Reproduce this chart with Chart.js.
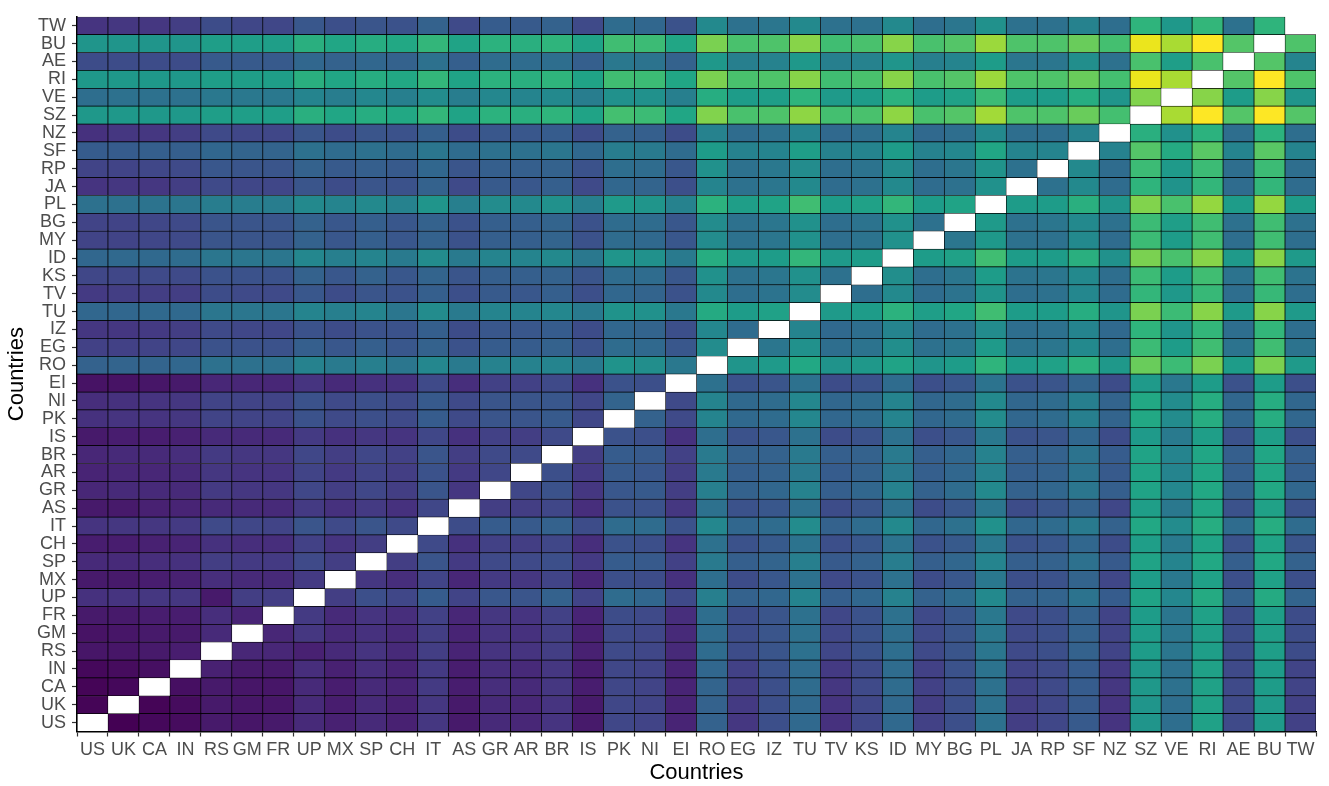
<!DOCTYPE html>
<html>
<head>
<meta charset="utf-8">
<script src="https://cdn.jsdelivr.net/npm/chart.js@4.4.1/dist/chart.umd.min.js"></script>
<style>
  html, body { margin: 0; padding: 0; background: #fff; }
  #wrap { width: 1329px; height: 786px; }
</style>
</head>
<body>
<div id="wrap"><canvas id="c" width="1329" height="786"></canvas></div>
<script>
// countries on both axes (x left->right, y bottom->top)
const countries = ['US','UK','CA','IN','RS','GM','FR','UP','MX','SP','CH','IT','AS','GR','AR','BR','IS','PK','NI','EI',
                   'RO','EG','IZ','TU','TV','KS','ID','MY','BG','PL','JA','RP','SF','NZ','SZ','VE','RI','AE','BU','TW'];

// one row per y country, values read off the colour scale (0 = darkest, 100 = brightest), null = no tile
const rUS = [null,0,2,3,7,6,7,12,9,12, 9,16,7,12,11,15,7,21,20,10, 31,16,24,34,14,21,34,19,24,37, 18,21,28,15,52,36,57,22,54,19];
const rUK = [1,null,1,3,7,6,6,12,8,12, 9,16,7,12,11,15,7,21,20,10, 31,17,24,34,15,21,34,18,24,37, 18,21,28,15,52,36,57,22,54,19];
const rCA = [1,2,null,4,7,6,6,12,8,12, 10,17,8,13,12,16,8,21,20,10, 32,18,24,35,16,22,35,19,24,37, 19,22,29,16,53,37,57,22,55,20];
const rIN = [2,3,4,null,9,7,7,13,9,13, 10,17,8,13,12,16,8,21,20,10, 33,19,25,35,17,22,35,19,25,38, 20,22,29,17,53,37,57,22,55,20];
const rRS = [6,6,7,8,null,11,11,9,12,15, 12,18,10,15,15,18,9,22,21,12, 35,23,26,37,21,25,36,22,26,39, 22,24,31,20,55,39,56,23,56,23];
const rGM = [5,6,7,7,12,null,11,16,12,14, 12,18,10,15,14,18,9,22,21,12, 35,23,26,37,21,25,36,22,26,40, 22,24,31,20,55,39,56,23,56,23];
const rFR = [7,7,8,8,13,10,null,17,12,15, 13,19,11,16,15,19,10,23,22,13, 36,23,26,37,21,25,37,22,27,40, 22,24,31,20,55,39,57,23,56,23];
const rUP = [14,15,16,16,7,18,18,null,18,24, 21,29,20,27,26,31,20,35,33,22, 43,31,33,45,30,33,44,31,35,47, 31,32,38,29,58,46,61,31,61,32];
const rMX = [7,7,8,9,13,12,12,17,null,16, 13,20,11,17,16,20,11,24,23,14, 36,23,27,37,22,25,37,23,27,40, 24,25,32,21,55,40,57,24,57,24];
const rSP = [12,12,13,14,18,17,17,22,18,null, 18,26,17,22,22,24,17,29,28,19, 41,30,32,43,28,31,42,30,33,45, 30,31,37,28,58,45,60,30,60,31];
const rCH = [8,8,9,10,14,13,13,19,15,18, null,22,14,19,18,21,13,25,24,15, 37,25,28,38,24,27,38,25,28,40, 25,27,33,23,56,41,58,25,58,26];
const rIT = [15,16,16,17,22,21,20,26,22,26, 22,null,23,29,28,31,23,35,35,25, 46,33,35,48,31,35,47,33,37,50, 33,35,41,31,60,48,62,35,62,35];
const rAS = [7,7,9,10,12,12,12,17,14,17, 14,21,null,18,18,21,13,25,25,16, 37,25,27,37,23,26,37,23,27,39, 23,26,31,21,56,40,59,25,57,25];
const rGR = [11,12,12,12,17,16,16,21,18,21, 18,26,16,null,21,25,16,27,28,18, 43,31,33,44,30,33,44,31,35,47, 31,33,39,30,58,46,60,31,60,33];
const rAR = [10,11,11,12,16,15,15,20,17,20, 18,25,17,21,null,24,17,28,27,18, 41,30,31,41,29,31,41,30,33,44, 30,31,38,28,58,45,59,30,59,30];
const rBR = [11,12,12,13,17,16,16,21,18,21, 19,26,18,22,22,null,18,29,28,19, 41,31,31,41,30,31,41,30,33,44, 30,31,38,29,58,45,59,30,59,30];
const rIS = [7,8,8,9,12,12,12,17,14,16, 15,21,14,19,18,22,null,25,24,14, 36,25,27,37,23,25,37,24,27,40, 25,26,33,23,54,41,56,25,56,24];
const rPK = [14,15,15,16,20,20,20,25,22,24, 22,29,22,26,26,28,21,null,31,22, 45,34,35,46,33,35,45,33,35,48, 33,35,43,32,60,48,62,33,62,33];
const rNI = [13,14,15,16,20,20,20,25,22,24, 22,28,22,26,26,27,21,32,null,22, 45,34,35,46,33,35,45,33,35,47, 33,35,43,32,60,48,62,33,62,33];
const rEI = [5,5,6,7,11,11,11,15,12,14, 14,22,13,19,19,22,14,25,24,null, 37,25,26,37,23,25,35,24,27,38, 25,26,32,23,54,40,55,25,55,24];
const rRO = [31,32,32,33,37,37,37,44,41,43, 39,46,41,44,44,45,41,51,49,40, null,52,54,60,51,53,58,52,55,65, 55,57,64,53,77,68,80,55,80,54];
const rEG = [19,19,20,21,25,25,25,30,27,30, 27,31,25,29,29,31,25,35,34,27, 48,null,39,50,36,38,49,37,39,54, 38,39,47,36,68,55,69,38,69,38];
const rIZ = [16,16,17,18,22,21,21,25,23,25, 25,30,23,27,27,29,23,33,32,24, 46,35,null,45,34,36,45,35,37,48, 36,37,45,34,65,52,66,36,66,36];
const rTU = [33,33,34,34,39,39,39,45,43,45, 39,48,41,45,45,46,41,51,50,40, 61,55,57,null,54,55,64,56,59,69, 55,55,62,52,80,68,82,54,82,54];
const rTV = [17,18,18,18,23,22,22,27,23,26, 25,30,24,28,27,30,24,33,32,25, 47,36,38,48,null,36,47,35,38,51, 36,37,46,35,66,53,67,36,67,36];
const rKS = [21,21,22,22,25,25,25,31,27,31, 27,32,26,30,30,31,26,35,35,27, 50,37,39,50,37,null,49,36,39,55, 38,39,47,36,68,55,69,38,69,38];
const rID = [33,34,34,35,39,39,39,46,43,45, 41,48,41,45,45,47,40,52,50,41, 62,54,55,66,54,55,null,55,57,69, 55,55,63,50,80,71,82,54,82,54];
const rMY = [20,20,21,22,26,26,26,31,27,30, 27,31,25,30,30,32,25,35,34,27, 48,37,39,50,36,38,50,null,39,53, 37,37,47,35,68,55,69,36,69,36];
const rBG = [20,20,21,22,26,26,26,31,27,30, 27,31,25,30,30,32,25,35,35,27, 48,37,39,50,36,38,50,37,null,54, 37,39,47,37,68,56,69,37,69,37];
const rPL = [37,37,38,39,42,42,42,47,45,47, 44,52,43,48,47,50,43,54,52,44, 64,56,58,69,55,57,66,55,58,null, 55,55,63,52,81,71,84,55,84,55];
const rJA = [15,16,16,18,22,21,21,26,23,26, 25,31,22,28,27,30,22,33,32,24, 45,37,39,47,35,37,47,35,37,50, null,37,47,35,65,51,66,35,66,35];
const rRP = [20,20,21,22,27,26,26,31,28,30, 28,33,26,30,30,31,25,36,35,27, 50,37,40,48,36,38,48,36,39,51, 37,null,47,35,68,54,68,36,68,36];
const rSF = [29,29,30,30,33,32,32,37,35,37, 35,39,35,37,37,39,34,42,41,35, 55,44,45,56,44,45,55,44,46,59, 45,45,null,44,73,61,74,45,74,45];
const rNZ = [14,16,16,18,22,21,21,26,23,26, 25,30,23,27,27,29,23,31,30,23, 44,35,37,45,34,36,45,34,36,47, 36,36,44,null,63,50,64,36,64,36];
const rSZ = [53,53,53,53,56,56,56,63,59,62, 60,66,58,64,63,65,58,70,68,59, 81,71,72,83,70,71,83,71,73,86, 72,72,77,70,null,87,100,73,100,73];
const rVE = [36,37,37,37,40,40,40,45,42,46, 43,48,42,46,45,47,42,50,50,43, 62,55,56,65,54,55,64,55,57,68, 55,55,62,52,81,null,82,55,82,52];
const rRI = [53,53,53,53,56,56,56,63,59,62, 60,66,58,64,63,65,58,69,68,59, 80,71,72,82,69,71,82,71,73,85, 72,72,77,70,97,87,null,73,100,72];
const rAE = [23,23,23,23,28,28,28,33,31,33, 31,37,30,35,35,36,30,40,38,31, 53,43,44,53,43,44,52,43,45,55, 39,39,49,37,71,56,71,null,73,45];
const rBU = [52,52,52,52,56,56,56,63,59,62, 60,66,58,64,63,65,58,69,68,59, 80,71,72,82,69,71,82,71,73,85, 72,72,77,70,97,87,100,73,null,72];
const rTW = [15,16,16,18,23,21,21,27,24,26, 25,31,22,29,28,31,22,35,33,25, 47,37,39,47,37,37,47,36,39,50, 37,37,44,36,65,53,66,37,65,null];

const rows = [rUS,rUK,rCA,rIN,rRS,rGM,rFR,rUP,rMX,rSP,rCH,rIT,rAS,rGR,rAR,rBR,rIS,rPK,rNI,rEI,
              rRO,rEG,rIZ,rTU,rTV,rKS,rID,rMY,rBG,rPL,rJA,rRP,rSF,rNZ,rSZ,rVE,rRI,rAE,rBU,rTW];

// viridis colour ramp
const VIR = ['#440154','#471365','#482475','#463480','#414487','#3b528b','#355f8d','#2f6c8e','#2a788e','#25848e',
             '#21918c','#1e9c89','#22a884','#2fb47c','#44bf70','#5ec962','#7ad151','#9bd93c','#bddf26','#dfe318','#fde725'];
const hex = h => [1,3,5].map(i => parseInt(h.substr(i,2),16));
function viridis(t) {
  t = Math.max(0, Math.min(1, t));
  const p = t * 20, i = Math.min(19, Math.floor(p)), f = p - i;
  const a = hex(VIR[i]), b = hex(VIR[i+1]);
  return 'rgb(' + a.map((v,k) => Math.round(v + (b[k]-v)*f)).join(',') + ')';
}

const FONT = 'Liberation Sans, Arial, Helvetica, sans-serif';

const datasets = rows.map((row, r) => ({
  data: row.map(v => v === null ? null : [r, r + 1]),
  backgroundColor: row.map(v => v === null ? 'rgba(0,0,0,0)' : viridis(v / 100)),
  borderColor: '#000',
  borderWidth: 0.7,
  borderSkipped: false,
  grouped: false,
  barPercentage: 1,
  categoryPercentage: 1
}));

new Chart(document.getElementById('c'), {
  type: 'bar',
  data: { labels: countries, datasets },
  options: {
    responsive: false,
    animation: false,
    devicePixelRatio: 1,
    layout: { padding: { top: 9.5, right: 13, left: 0, bottom: 0 } },
    plugins: { legend: { display: false }, tooltip: { enabled: false } },
    scales: {
      x: {
        type: 'category',
        grid: { drawOnChartArea: false, drawTicks: true, tickLength: 5, tickColor: '#333', tickWidth: 1.2 },
        border: { display: true, color: '#000', width: 1.6 },
        ticks: { color: '#4d4d4d', font: { family: FONT, size: 18 }, autoSkip: false, maxRotation: 0, minRotation: 0, padding: 3 },
        title: { display: true, text: 'Countries', color: '#000', font: { family: FONT, size: 22 }, padding: { top: 0, bottom: 0 } },
        afterFit: s => { s.height = 54.5; }
      },
      y: {
        type: 'linear', min: 0, max: 40,
        afterBuildTicks: s => { s.ticks = countries.map((_, i) => ({ value: i + 0.5 })); },
        grid: { drawOnChartArea: false, drawTicks: true, tickLength: 5, tickColor: '#333', tickWidth: 1.2 },
        border: { display: true, color: '#000', width: 1.6 },
        ticks: { color: '#4d4d4d', font: { family: FONT, size: 18 }, autoSkip: false, padding: 6,
                 callback: v => countries[Math.floor(v)] },
        title: { display: true, text: 'Countries', color: '#000', font: { family: FONT, size: 22 }, padding: { top: 4, bottom: 0 } },
        afterFit: s => { s.width = 77; }
      }
    }
  }
});
</script>
</body>
</html>
